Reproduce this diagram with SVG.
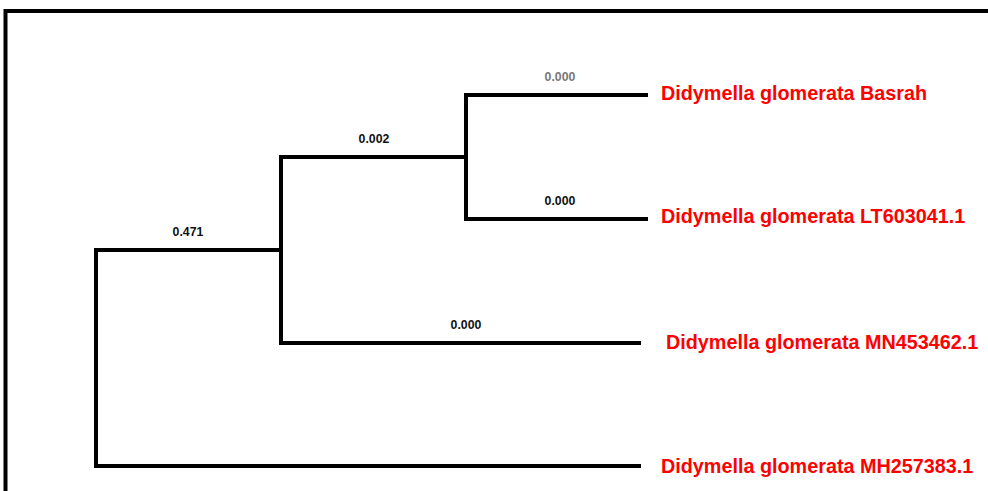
<svg xmlns="http://www.w3.org/2000/svg" width="988" height="491" viewBox="0 0 988 491">
<style>
.b{fill:none;stroke:#000;stroke-width:4;stroke-linecap:square}
.frame{fill:none;stroke:#000;stroke-width:4}
.lab{font-family:"Liberation Sans",Arial,sans-serif;font-weight:bold;font-size:19.8px;fill:#ff0000}
.bl{font-family:"Liberation Sans",Arial,sans-serif;font-weight:bold;font-size:12.3px;fill:#111;text-anchor:middle}
</style>
<rect width="988" height="491" fill="#fff"/>
<path class="frame" d="M5.5,491 V11 H988"/>
<g id="connectors">
<path class="b" d="M96,466 V250 H281"/>
<path class="b" d="M96,466 H639"/>
<path class="b" d="M281,343 V157 H466"/>
<path class="b" d="M281,343 H639"/>
<path class="b" d="M466,219 V95 H646"/>
<path class="b" d="M466,219 H646"/>
</g>
<g id="branch-labels">
<text class="bl" x="560" y="81" style="fill:#777">0.000</text>
<text class="bl" x="560" y="205">0.000</text>
<text class="bl" x="374" y="143">0.002</text>
<text class="bl" x="188" y="236">0.471</text>
<text class="bl" x="466" y="329">0.000</text>
</g>
<g id="leaf-basrah"><text class="lab" x="661" y="100">Didymella glomerata Basrah</text></g>
<g id="leaf-lt603041"><text class="lab" x="661" y="223">Didymella glomerata LT603041.1</text></g>
<g id="leaf-mn453462"><text class="lab" x="666" y="349">Didymella glomerata MN453462.1</text></g>
<g id="leaf-mh257383"><text class="lab" x="661" y="473">Didymella glomerata MH257383.1</text></g>
</svg>
